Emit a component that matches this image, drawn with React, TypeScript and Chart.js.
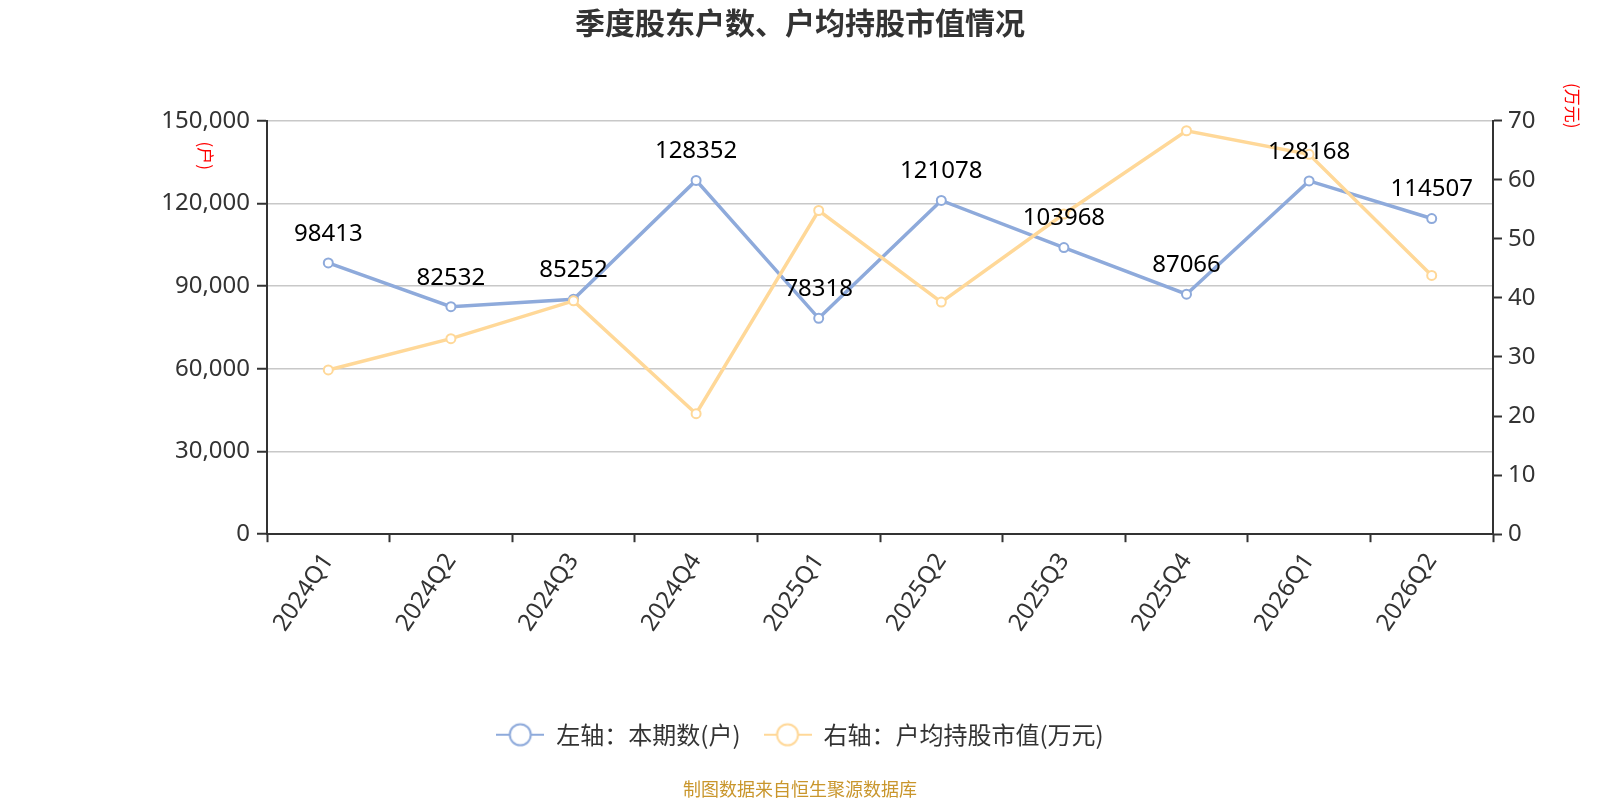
import React, { useEffect, useRef } from "react";
import { Chart, registerables } from "chart.js";

Chart.register(...registerables);

const categories = ["2024Q1", "2024Q2", "2024Q3", "2024Q4", "2025Q1", "2025Q2", "2025Q3", "2025Q4", "2026Q1", "2026Q2"];
const holders = [98413, 82532, 85252, 128352, 78318, 121078, 103968, 87066, 128168, 114507];
const avgValue = [27.8, 33.1, 39.5, 20.4, 54.8, 39.3, 54.2, 68.3, 64.3, 43.8];
const leftTicks = { min: 0, max: 150000, step: 30000 };
const rightTicks = { min: 0, max: 70, step: 10 };

const titleText = "季度股东户数、户均持股市值情况";
const legendNames = ["左轴：本期数(户)", "右轴：户均持股市值(万元)"];
const leftUnit = "(户)";
const rightUnit = "(万元)";
const sourceText = "制图数据来自恒生聚源数据库";

const BLUE = "#8eaadb";
const ORANGE = "#ffd898";
const CJK = '"Noto Sans CJK SC", "Noto Sans", sans-serif';
const NUM = '"Noto Sans", "Noto Sans CJK SC", sans-serif';

function makeIcon(color: string) {
  const c = document.createElement("canvas");
  c.width = 48;
  c.height = 26;
  const g = c.getContext("2d")!;
  g.strokeStyle = color;
  g.lineWidth = 2;
  g.beginPath();
  g.moveTo(0, 13);
  g.lineTo(48, 13);
  g.stroke();
  g.beginPath();
  g.arc(24, 13, 10.5, 0, Math.PI * 2);
  g.fillStyle = "#fff";
  g.fill();
  g.stroke();
  return c;
}

const unitPlugin = {
  id: "unitTitles",
  afterDraw(chart: any) {
    const { ctx, chartArea } = chart;
    ctx.save();
    ctx.fillStyle = "#ff0000";
    ctx.font = `17px ${CJK}`;
    ctx.textAlign = "center";
    ctx.textBaseline = "middle";
    const draw = (t: string, x: number, y: number) => {
      ctx.save();
      ctx.translate(x, y);
      ctx.rotate(Math.PI / 2);
      ctx.fillText(t, 0, 0);
      ctx.restore();
    };
    draw(leftUnit, chartArea.left - 62, chartArea.top + 35);
    draw(rightUnit, chartArea.right + 79, chartArea.top - 15);
    ctx.restore();
  },
};

const labelPlugin = {
  id: "pointLabels",
  afterDatasetsDraw(chart: any) {
    const { ctx } = chart;
    const meta = chart.getDatasetMeta(0);
    ctx.save();
    ctx.fillStyle = "#000";
    ctx.font = `24px ${NUM}`;
    ctx.textAlign = "center";
    ctx.textBaseline = "middle";
    meta.data.forEach((el: any, i: number) => {
      ctx.fillText(String(holders[i]), el.x, el.y - 29);
    });
    ctx.restore();
  },
};

export default function App() {
  const ref = useRef<HTMLCanvasElement>(null);
  useEffect(() => {
    const icons = [makeIcon(BLUE), makeIcon(ORANGE)];
    const chart = new Chart(ref.current!, {
      type: "line",
      data: {
        labels: categories,
        datasets: [
          {
            label: legendNames[0],
            data: holders,
            yAxisID: "y",
            borderColor: BLUE,
            backgroundColor: BLUE,
            borderWidth: 3.5,
            tension: 0,
            pointRadius: 4.5,
            pointBorderWidth: 2,
            pointBackgroundColor: "#fff",
            pointBorderColor: BLUE,
            order: 1,
          },
          {
            label: legendNames[1],
            data: avgValue,
            yAxisID: "y1",
            borderColor: ORANGE,
            backgroundColor: ORANGE,
            borderWidth: 3.5,
            tension: 0,
            pointRadius: 4.5,
            pointBorderWidth: 2,
            pointBackgroundColor: "#fff",
            pointBorderColor: ORANGE,
            order: 0,
          },
        ],
      },
      options: {
        animation: false,
        responsive: false,
        devicePixelRatio: 1,
        layout: { padding: 0 },
        plugins: {
          title: {
            display: true,
            text: titleText,
            color: "#333",
            font: { family: CJK, size: 30, weight: "bold", lineHeight: 1.2 },
            padding: { top: 4.5, bottom: 80.2 },
          },
          subtitle: {
            display: true,
            position: "bottom",
            text: sourceText,
            color: "#c9962c",
            font: { family: CJK, size: 18, lineHeight: 1.2 },
            padding: { top: 21.7, bottom: 0 },
          },
          legend: {
            display: true,
            position: "bottom",
            labels: {
              usePointStyle: true,
              pointStyleWidth: 48,
              padding: 23,
              color: "#333",
              font: { family: CJK, size: 24 },
              generateLabels: () =>
                legendNames.map((n, i) => ({
                  text: n,
                  pointStyle: icons[i] as any,
                  datasetIndex: i,
                  hidden: false,
                  fillStyle: "#fff",
                  strokeStyle: i === 0 ? BLUE : ORANGE,
                  lineWidth: 2,
                  fontColor: "#333",
                })),
            },
          },
          tooltip: { enabled: false },
        },
        scales: {
          x: {
            type: "category",
            offset: true,
            grid: {
              display: true,
              drawOnChartArea: false,
              offset: true,
              tickLength: 8,
              tickColor: "#333",
              tickWidth: 2,
            },
            border: { display: true, color: "#333", width: 2 },
            ticks: {
              color: "#333",
              font: { family: NUM, size: 24 },
              minRotation: 56,
              maxRotation: 56,
              padding: 6,
              autoSkip: false,
            },
            afterFit: (s: any) => {
              s.height = 165.5;
            },
          },
          y: {
            type: "linear",
            position: "left",
            min: leftTicks.min,
            max: leftTicks.max,
            grid: {
              color: "#c8c8c8",
              lineWidth: 1.5,
              tickLength: 10,
              tickColor: "#333",
              tickWidth: 2,
            },
            border: { display: true, color: "#333", width: 2 },
            ticks: {
              stepSize: leftTicks.step,
              color: "#333",
              font: { family: NUM, size: 24 },
              padding: 7,
              callback: (v: any) => Number(v).toLocaleString("en-US"),
            },
            afterFit: (s: any) => {
              s.width = 267;
            },
          },
          y1: {
            type: "linear",
            position: "right",
            min: rightTicks.min,
            max: rightTicks.max,
            grid: {
              drawOnChartArea: false,
              tickLength: 9,
              tickColor: "#333",
              tickWidth: 2,
            },
            border: { display: true, color: "#333", width: 2 },
            ticks: {
              stepSize: rightTicks.step,
              color: "#333",
              font: { family: NUM, size: 24 },
              padding: 6,
            },
            afterFit: (s: any) => {
              s.width = 107;
            },
          },
        },
      } as any,
      plugins: [unitPlugin, labelPlugin],
    });
    return () => chart.destroy();
  }, []);
  return (
    <div style={{ position: "absolute", left: 0, top: 0, width: 1600, height: 800, background: "#fff" }}>
      <canvas ref={ref} width={1600} height={800} style={{ width: 1600, height: 800 }} />
    </div>
  );
}
